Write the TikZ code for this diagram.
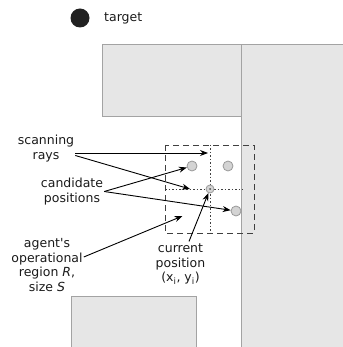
\documentclass[tikz,border=0pt]{standalone}
\usepackage{fontspec}
\setmainfont{DejaVu Sans}
\usetikzlibrary{arrows.meta}
\definecolor{wallfill}{HTML}{E6E6E6}
\definecolor{wallline}{HTML}{A3A3A3}
\definecolor{candfill}{HTML}{D4D4D4}
\definecolor{candline}{HTML}{999999}
\definecolor{txt}{HTML}{1A1A1A}
\begin{document}
\begin{tikzpicture}[x=1pt,y=-1pt,
  lbl/.style={font=\fontsize{12.5}{14.7}\selectfont, text=txt, align=center, inner sep=1pt},
  wall/.style={draw=wallline, fill=wallfill, line width=1pt},
  cand/.style={circle, draw=candline, fill=candfill, line width=0.8pt, minimum size=10pt, inner sep=0pt},
  arr/.style={draw=black, line width=0.9pt, -{Stealth[length=8pt,width=6pt]}},
  region/.style={draw=black!75, line width=0.9pt, dash pattern=on 6pt off 4pt},
  grid/.style={draw=black!75, line width=0.8pt, dash pattern=on 1.5pt off 2pt}]
\useasboundingbox (0,0) rectangle (342,347);
% walls
\draw[wall] (102,45) rectangle (241,117);
\draw[wall] (241,45) rectangle (350,355);
\draw[wall] (71,296) rectangle (196,355);
% target
\node[circle, fill=black!87, minimum size=19pt, inner sep=0pt] (target) at (80,18) {};
\node[lbl, anchor=west] (tlbl) at (103,18) {target};
% operational region
\draw[region] (165,145) rectangle (254,233);
\draw[grid] (210,145) -- (210,233);
\draw[grid] (165,189) -- (243,189);
% positions
\node[cand] (c1) at (192,166) {};
\node[cand] (c2) at (228,166) {};
\node[cand] (c3) at (236,211) {};
\node[circle, draw=candline, fill=candfill, line width=0.8pt, minimum size=8pt, inner sep=0pt] (cur) at (210,189) {};
\fill[black!70] (cur.center) circle (1pt);
% labels
\node[lbl] (scan) at (46,148.5) {scanning\\rays};
\node[lbl] (candl) at (72,191.5) {candidate\\positions};
\node[lbl] (agent) at (47,265) {agent\textquotesingle s\\operational\\region \textit{R},\\size \textit{S}};
\node[lbl] (curl) at (180.5,264) {current\\position\\(x\textsubscript{i}, y\textsubscript{i})};
% free ends
\coordinate (r1) at (208,153);
\coordinate (r2) at (190,189);
\coordinate (ag) at (182.5,216);
% connectors
\draw[arr] (scan.east |- 0,153) -- (r1);
\draw[arr] (scan.east |- 0,155.5) -- (r2);
\draw[arr] (candl.east) -- (c1);
\draw[arr] (candl.east) -- (c3);
\draw[arr] (agent.east |- 0,257) -- (ag);
\draw[arr] ([xshift=8.5pt,yshift=1pt]curl.north) -- (cur);
\end{tikzpicture}
\end{document}
